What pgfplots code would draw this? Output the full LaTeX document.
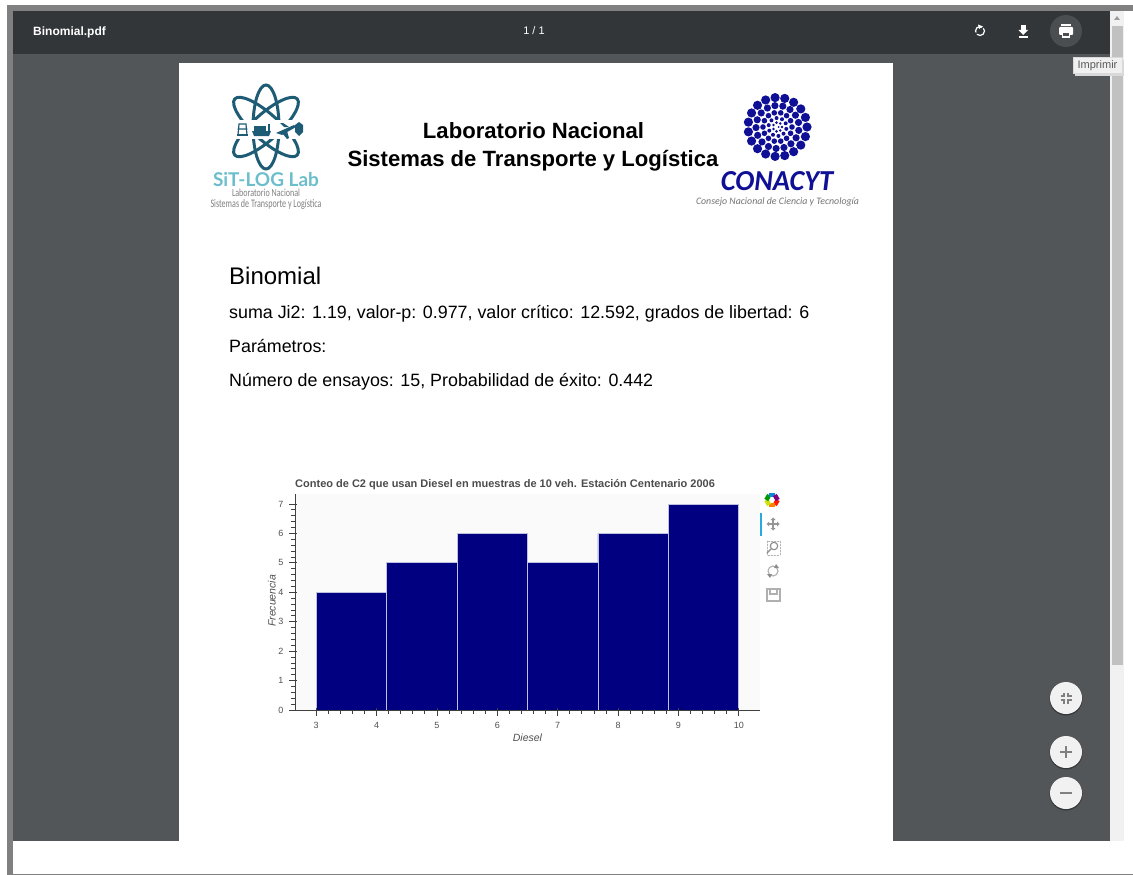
\documentclass[border=0pt]{standalone}
\usepackage{fontspec}
\setmainfont{Liberation Sans}
\newfontfamily\carlito{Carlito}
\newfontfamily\lato{Lato}
\usepackage{pgfplots}
\pgfplotsset{compat=1.18}
\definecolor{barnavy}{RGB}{0,0,128}
\definecolor{toolbar}{RGB}{50,54,57}
\definecolor{viewer}{RGB}{82,86,89}
\definecolor{frame}{RGB}{128,128,128}
\definecolor{track}{RGB}{241,241,241}
\definecolor{thumb}{RGB}{193,193,193}
\definecolor{atom}{RGB}{30,92,118}
\definecolor{sitlog}{RGB}{108,190,204}
\definecolor{conablue}{RGB}{16,16,150}
\definecolor{axisgrey}{RGB}{80,80,80}
\definecolor{iconcol}{RGB}{176,176,176}
\newcommand{\fs}[1]{\fontsize{#1}{#1}\selectfont}

\begin{document}
\begin{tikzpicture}
\path[use as bounding box] (0pt,0pt) rectangle (1133pt,-875pt);
\begin{scope}[x=1pt,y=-1pt,line cap=round]
% browser frame
\fill[white] (0,0) rectangle (1133,875);
\fill[frame] (7,5) rectangle (1133,11);
\fill[frame] (7,5) rectangle (13,875);
\fill[frame] (13,874) rectangle (1133,875);
\fill[viewer] (13,54) rectangle (1110,841);
\fill[toolbar] (13,11) rectangle (1110,54);
\fill[track] (1110,11) rectangle (1124,841);
\fill[thumb] (1112,26) rectangle (1123,665);
\fill[thumb!80!black] (1114,20) -- (1120,20) -- (1117,16) -- cycle;
\fill[white] (179,63) rectangle (893,841);
% toolbar text and icons
\node[anchor=base west,white,inner sep=0pt,font=\fs{12}\bfseries] at (33,35.5) {Binomial.pdf};
\node[anchor=base,white,inner sep=0pt,font=\fs{11}] at (534,35) {1 / 1};
\draw[white,line width=1.2pt,dash pattern=on 10pt off 2.5pt] (980,31) circle (4.5);
\fill[white] (978,24.5) -- (983,26.5) -- (979,29) -- cycle;
\fill[white] (1021,25) rectangle (1025.5,30);
\fill[white] (1018.5,30) -- (1028,30) -- (1023.2,35) -- cycle;
\fill[white] (1018.5,36.5) rectangle (1028,38);
\fill[white!12!toolbar] (1066,31) circle (16);
\fill[white,rounded corners=1pt] (1059,27) rectangle (1073,35);
\fill[white] (1061,24) rectangle (1071,26.5);
\fill[white] (1062,33) rectangle (1070,38);
\fill[white!12!toolbar] (1063,33) rectangle (1069,36.5);
% tooltip
\fill[black!15] (1075,60) rectangle (1124,76);
\fill[black!6,draw=black!15,line width=0.5pt] (1073,57) rectangle (1122,73);
\node[anchor=base,text=black!65,inner sep=0pt,font=\fs{11}] at (1097.5,69) {Imprimir};
% zoom buttons
\foreach \cy in {698,752,793} {
  \fill[black!35!viewer] (1066,\cy+1) circle (16.5);
  \fill[track] (1066,\cy) circle (16);
}
\begin{scope}[draw=black!50,line width=1.1pt,line cap=butt]
\draw (1060.5,696) -- (1064,696) -- (1064,692.5) (1071.5,696) -- (1068,696) -- (1068,692.5);
\draw (1060.5,700) -- (1064,700) -- (1064,703.5) (1071.5,700) -- (1068,700) -- (1068,703.5);
\draw[line width=1.3pt] (1060,752) -- (1072,752) (1066,746) -- (1066,758);
\draw[line width=1.3pt] (1060,793) -- (1072,793);
\end{scope}
% header
\node[anchor=base,inner sep=0pt,font=\fs{22.1}\bfseries] at (533.5,138) {Laboratorio Nacional};
\node[anchor=base,inner sep=0pt,font=\fs{22.1}\bfseries] at (533,166) {Sistemas de Transporte y Logística};
% SiT-LOG logo
\foreach \ang in {90,42,-42} {
  \draw[atom,line width=3pt,rotate around={\ang:(266,127)}] (266,127) ellipse [x radius=42,y radius=13];
}
\fill[white] (228,120) rectangle (306,139);
\begin{scope}[atom]
\draw[line width=1.2pt] (238,135) -- (239,124) -- (246,124) -- (247,135) (238,129) -- (247,129);
\fill (237,134) rectangle (248,136);
\fill (252,131) -- (271,131) -- (269,136) -- (254,136) -- cycle;
\fill (254,126) rectangle (266,131);
\fill (268,124) rectangle (270,131);
\fill (276,133) -- (294,125) -- (296,127) -- (282,135) -- cycle;
\fill (284,127) -- (280,123) -- (283,123) -- (289,127) -- cycle;
\fill (282,133) -- (287,139) -- (289,138) -- (287,131) -- cycle;
\fill (299,122) -- (303,125) -- (303,132) -- (299,136) -- (295,132) -- (295,125) -- cycle;
\end{scope}
\node[anchor=base,text=sitlog,inner sep=0pt,font=\lato\fs{19}\bfseries] at (266,186.5) {SiT-LOG Lab};
\node[anchor=base,text=black!50,inner sep=0pt] at (266,196.5) {\resizebox{68pt}{7.5pt}{\carlito Laboratorio Nacional}};
\node[anchor=base,text=black!50,inner sep=0pt] at (266,207) {\resizebox{111pt}{8pt}{\carlito Sistemas de Transporte y Logística}};
% CONACYT logo
\foreach \r/\n/\d/\o in {29.5/19/4.6/0,21.5/17/3.6/9,14.5/14/2.8/0,9/10/2/12,4.5/7/1.4/0,1/1/1/0} {
  \foreach \i in {1,...,\n} {
    \fill[conablue] ({777.5+\r*cos(\i*360/\n+\o)},{127+\r*sin(\i*360/\n+\o)}) circle (\d);
  }
}
\node[anchor=base,text=conablue,inner sep=0pt] at (777,190) {\resizebox{112pt}{19pt}{\carlito\itshape\bfseries CONACYT}};
\node[anchor=base,text=black!55,inner sep=0pt] at (777.5,204) {\resizebox{163pt}{!}{\carlito\itshape Consejo Nacional de Ciencia y Tecnología}};
% body text
\node[anchor=base west,inner sep=0pt,font=\fs{24}] at (229,284) {Binomial};
\node[anchor=base west,inner sep=0pt,font=\fs{17.85}] at (229,318) {suma Ji2: 1.19, valor-p: 0.977, valor crítico: 12.592, grados de libertad: 6};
\node[anchor=base west,inner sep=0pt,font=\fs{17.85}] at (229,352) {Parámetros:};
\node[anchor=base west,inner sep=0pt,font=\fs{17.85}] at (229,386) {Número de ensayos: 15, Probabilidad de éxito: 0.442};
% chart tools
\foreach \a/\c in {0/red!80!orange,60/orange,120/yellow!80!green,180/green!60!black,240/cyan!70!blue,300/violet} {
  \draw[\c,line width=4.5pt,line cap=butt] ({772+5.7*cos(\a)},{500+5.7*sin(\a)}) -- ({772+5.7*cos(\a+60)},{500+5.7*sin(\a+60)});
}
\definecolor{toolblue}{RGB}{38,170,225}
\fill[toolblue] (760,513) rectangle (761.5,536);
\begin{scope}[iconcol,line width=1.1pt]
\draw[iconcol!85!black,line width=1.4pt,line cap=butt] (768,524) -- (778,524) (773,519) -- (773,529);
\fill[iconcol!85!black] (766.5,524) -- (769,521.5) -- (769,526.5) -- cycle;
\fill[iconcol!85!black] (779.5,524) -- (777,521.5) -- (777,526.5) -- cycle;
\fill[iconcol!85!black] (773,517.5) -- (770.5,520) -- (775.5,520) -- cycle;
\fill[iconcol!85!black] (773,530.5) -- (770.5,528) -- (775.5,528) -- cycle;
\draw[dash pattern=on 1.5pt off 1.5pt,line width=0.8pt] (767,541) rectangle (780,555);
\draw[black!45,fill=white] (774,546) circle (3.7);
\draw[black!45,line width=1.3pt] (771,549) -- (767,553);
\draw (773,571) circle (5);
\fill[iconcol!80!black] (776,564) -- (779,568) -- (774,568) -- cycle;
\fill[iconcol!80!black] (770,578) -- (767,574) -- (772,574) -- cycle;
\draw (767,589) rectangle (780,601);
\draw (770,589) rectangle (777,594);
\end{scope}
\end{scope}
\begin{axis}[
  at={(295pt,-710pt)}, anchor=south west,
  scale only axis, width=465pt, height=216pt,
  xmin=2.65, xmax=10.35, ymin=0, ymax=7.34,
  axis x line*=bottom, axis y line*=left,
  axis line style={-,black!75,line width=0.9pt},
  axis background/.style={fill=black!2},
  axis on top,
  xtick={3,4,5,6,7,8,9,10}, ytick={0,1,2,3,4,5,6,7},
  minor tick num=4,
  tick style={black!75,line width=0.8pt},
  major tick length=8pt, minor tick length=4pt,
  tick align=outside,
  major x tick style={yshift=2pt}, major y tick style={xshift=2pt},
  /pgf/number format/assume math mode=true,
  tick label style={font=\fs{9}, text=axisgrey},
  xticklabel shift=1pt, yticklabel shift=0pt,
  xlabel={Diesel}, ylabel={Frecuencia},
  every axis x label/.style={at={(axis description cs:0.5,-0.13)},anchor=center,font=\fs{10.5}\itshape,text=axisgrey},
  every axis y label/.style={at={(axis description cs:-0.05,0.505)},anchor=center,rotate=90,font=\fs{10.5}\itshape,text=axisgrey},
  title={Conteo de C2 que usan Diesel en muestras de 10 veh. Estación Centenario 2006},
  every axis title shift=0pt,
  title style={font=\fs{11}\bfseries, text=black!70, at={(axis description cs:0,1.02)}, anchor=south west, inner sep=0pt},
]
\addplot[ybar interval, fill=barnavy, draw=white!75!barnavy, line width=0.8pt] coordinates {
  (3,4)(4.167,5)(5.333,6)(6.5,5)(7.667,6)(8.833,7)(10,7)
};
\end{axis}
\end{tikzpicture}
\end{document}
